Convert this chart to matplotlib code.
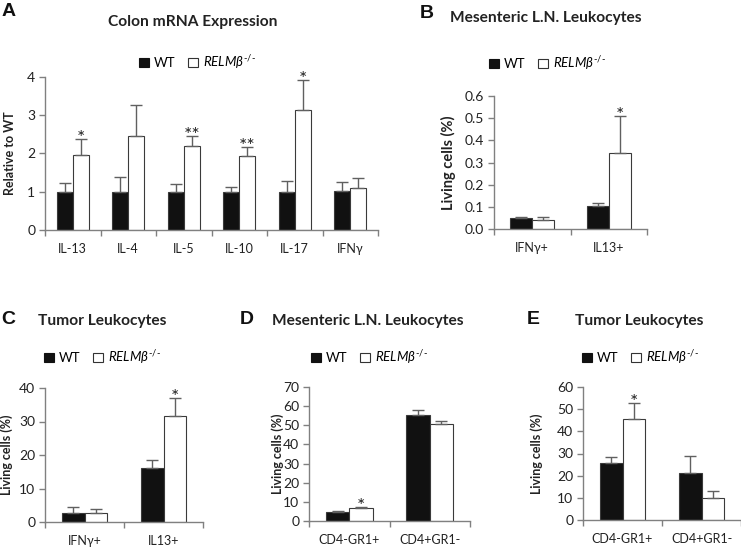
import matplotlib
matplotlib.use("Agg")
import matplotlib.pyplot as plt
from matplotlib.patches import Patch
import numpy as np

W, H = 741, 547
plt.rcParams['font.family'] = ['Lato', 'DejaVu Sans']
plt.rcParams['mathtext.fontset'] = 'custom'
plt.rcParams['mathtext.it'] = 'Lato:italic'
plt.rcParams['mathtext.rm'] = 'Lato'

# ---------------- data ----------------
a_cats = ['IL-13', 'IL-4', 'IL-5', 'IL-10', 'IL-17', 'IFNγ']
a_wt = [1.0, 1.0, 1.0, 1.0, 1.0, 1.02]
a_wt_err = [0.23, 0.39, 0.20, 0.13, 0.28, 0.24]
a_ko = [1.97, 2.46, 2.20, 1.94, 3.13, 1.10]
a_ko_err = [0.40, 0.82, 0.27, 0.23, 0.80, 0.27]
a_sig = ['*', '', '**', '**', '*', '']
a_yticks = [0, 1, 2, 3, 4]

b_cats = ['IFNγ+', 'IL13+']
b_wt = [0.048, 0.106]
b_wt_err = [0.004, 0.010]
b_ko = [0.042, 0.344]
b_ko_err = [0.012, 0.165]
b_sig = ['', '*']
b_yticks = [0.0, 0.1, 0.2, 0.3, 0.4, 0.5, 0.6]

c_cats = ['IFNγ+', 'IL13+']
c_wt = [2.8, 16.2]
c_wt_err = [1.7, 2.2]
c_ko = [2.8, 31.6]
c_ko_err = [1.1, 5.4]
c_sig = ['', '*']
c_yticks = [0, 10, 20, 30, 40]

d_cats = ['CD4-GR1+', 'CD4+GR1-']
d_wt = [4.7, 55.6]
d_wt_err = [0.5, 2.6]
d_ko = [6.8, 50.5]
d_ko_err = [0.5, 1.8]
d_sig = ['*', '']
d_yticks = [0, 10, 20, 30, 40, 50, 60, 70]

e_cats = ['CD4-GR1+', 'CD4+GR1-']
e_wt = [25.8, 21.3]
e_wt_err = [2.7, 7.7]
e_ko = [45.7, 9.8]
e_ko_err = [7.1, 3.4]
e_sig = ['*', '']
e_yticks = [0, 10, 20, 30, 40, 50, 60]

ko_label = r'$\mathit{RELM\beta}^{\text{-/-}}$'

fig = plt.figure(figsize=(W / 100, H / 100), dpi=100)

AX_COL = '#808080'
EDGE = '#3a3a3a'
ERR = '#606060'


def px_axes(x0, y0, x1, y1):
    return fig.add_axes([x0 / W, 1 - y1 / H, (x1 - x0) / W, (y1 - y0) / H])


def ftext(x, y, s, **kw):
    fig.text(x / W, 1 - y / H, s, **kw)


def panel(box, cats, wt, wt_err, ko, ko_err, sig, yticks, fmt, ylabel, ylab_x,
          ylab_size, letter, letter_xy, title, title_xy, title_ha, leg_xy):
    ax = px_axes(*box)
    n = len(cats)
    x = np.arange(n)
    bw = 0.29
    ax.bar(x - bw / 2, wt, bw, color='#111111', edgecolor=EDGE, linewidth=0.8,
           yerr=[np.zeros(n), wt_err], ecolor=ERR,
           error_kw=dict(elinewidth=1.0, capsize=4, capthick=1.0), zorder=3)
    ax.bar(x + bw / 2, ko, bw, color='white', edgecolor=EDGE, linewidth=0.8,
           yerr=[np.zeros(n), ko_err], ecolor=ERR,
           error_kw=dict(elinewidth=1.0, capsize=4, capthick=1.0), zorder=3)
    for i in range(n):
        if sig[i]:
            ax.annotate(sig[i], (x[i] + bw / 2, ko[i] + ko_err[i]),
                        xytext=(0, -5), textcoords='offset pixels',
                        ha='center', va='baseline', fontsize=14,
                        color='#222222')
    ax.set_xlim(-0.5, n - 0.5)
    ax.set_ylim(yticks[0], yticks[-1])
    ax.set_yticks(yticks)
    ax.set_yticklabels([fmt.format(v) for v in yticks])
    ax.set_xticks(x)
    ax.set_xticklabels(cats)
    ax.set_xticks(np.arange(n + 1) - 0.5, minor=True)
    ax.tick_params(axis='x', which='major', length=0, pad=9.5, labelsize=9,
                   colors='#222222')
    ax.tick_params(axis='x', which='minor', length=4, direction='out',
                   color=AX_COL, width=1)
    ax.tick_params(axis='y', length=4, direction='out', color=AX_COL, width=1,
                   pad=3, labelsize=10, labelcolor='#222222')
    for s in ['top', 'right']:
        ax.spines[s].set_visible(False)
    for s in ['left', 'bottom']:
        ax.spines[s].set_color(AX_COL)
        ax.spines[s].set_linewidth(1)
    ax.spines['bottom'].set_zorder(5)
    ax.set_ylabel(ylabel, fontsize=ylab_size, fontweight='bold',
                  color='#222222')
    x0, y0, x1, y1 = box
    ax.yaxis.set_label_coords((ylab_x - x0) / (x1 - x0), 0.5)
    ftext(letter_xy[0], letter_xy[1], letter, fontsize=14, fontweight='bold',
          family='Liberation Sans', ha='center', va='center', color='#111111')
    ftext(title_xy[0], title_xy[1], title, fontsize=11.2, fontweight='bold',
          ha=title_ha, va='center', color='#222222')
    handles = [Patch(facecolor='#111111', edgecolor='#111111', linewidth=0.8),
               Patch(facecolor='white', edgecolor='#333333', linewidth=0.8)]
    fig.legend(handles, ['WT', ko_label], loc='center left',
               bbox_to_anchor=(leg_xy[0] / W, 1 - leg_xy[1] / H), ncol=2,
               frameon=False, fontsize=9.5, handlelength=0.75,
               handleheight=0.75, handletextpad=0.35, columnspacing=1.0,
               borderpad=0, borderaxespad=0)
    return ax


panel((45, 77, 378, 230), a_cats, a_wt, a_wt_err, a_ko, a_ko_err, a_sig,
      a_yticks, '{:d}', 'Relative to WT', 16, 9, 'A', (9, 12),
      'Colon mRNA Expression', (193, 22), 'center', (139, 62))
panel((494, 96, 647, 229), b_cats, b_wt, b_wt_err, b_ko, b_ko_err, b_sig,
      b_yticks, '{:.1f}', 'Living cells (%)', 456, 10.5, 'B', (427, 13),
      'Mesenteric L.N. Leukocytes', (450, 18), 'left', (489, 63))
panel((45, 388, 203, 522), c_cats, c_wt, c_wt_err, c_ko, c_ko_err, c_sig,
      c_yticks, '{:d}', 'Living cells (%)', 13, 9, 'C', (8, 320),
      'Tumor Leukocytes', (38, 321), 'left', (44, 357))
panel((309, 387, 470, 521), d_cats, d_wt, d_wt_err, d_ko, d_ko_err, d_sig,
      d_yticks, '{:d}', 'Living cells (%)', 284, 9, 'D', (247, 320),
      'Mesenteric L.N. Leukocytes', (272, 321), 'left', (311, 357))
panel((583, 387, 741, 520), e_cats, e_wt, e_wt_err, e_ko, e_ko_err, e_sig,
      e_yticks, '{:d}', 'Living cells (%)', 543, 9, 'E', (533, 320),
      'Tumor Leukocytes', (575, 321), 'left', (582, 357))

fig.savefig('out.png', dpi=100)
